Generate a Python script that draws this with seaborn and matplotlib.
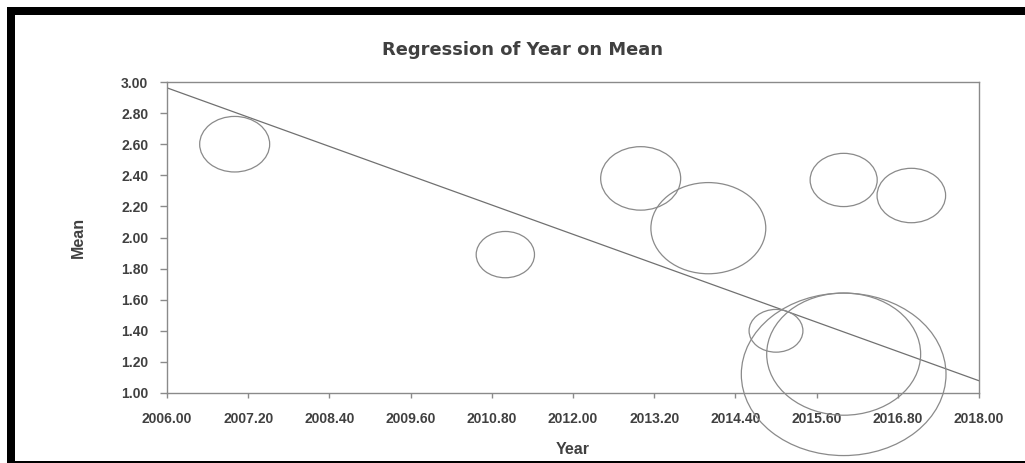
import numpy as np
import pandas as pd
import matplotlib
matplotlib.use("Agg")
import matplotlib.pyplot as plt
from matplotlib.path import Path
from matplotlib.patches import Rectangle
import seaborn as sns

# Study-level data: publication year, reported mean, and sample size (bubble weight)
years = [2007, 2011, 2013, 2014, 2016, 2017, 2015, 2016, 2016]
means = [2.60, 1.89, 2.38, 2.06, 2.37, 2.27, 1.40, 1.25, 1.12]
n_obs = [49, 34, 64, 132, 45, 47, 29, 237, 419]

x_ticks = [2006.0, 2007.2, 2008.4, 2009.6, 2010.8, 2012.0, 2013.2, 2014.4, 2015.6, 2016.8, 2018.0]
y_ticks = [1.0, 1.2, 1.4, 1.6, 1.8, 2.0, 2.2, 2.4, 2.6, 2.8, 3.0]

df = pd.DataFrame({"Year": years, "Mean": means, "n": n_obs})

sns.set_theme(style="white")
plt.rcParams["font.family"] = ["Liberation Sans", "DejaVu Sans"]

TEXT = "#404040"
EDGE = "#8a8a8a"

fig = plt.figure(figsize=(10.25, 4.63), dpi=100)
ax = fig.add_axes([167 / 1025, 1 - 393 / 463, (979 - 167) / 1025, (393 - 82) / 463])

# Bubbles are slightly wider than tall
circle = Path.unit_circle()
ellipse = Path(circle.vertices * np.array([1.26, 1.0]), circle.codes)

k = 7.2 ** 2  # points^2 per unit of n
sns.scatterplot(
    data=df, x="Year", y="Mean", size="n",
    sizes=(k * min(n_obs), k * max(n_obs)),
    marker=ellipse, facecolor="none", edgecolor=EDGE, linewidth=0.9,
    legend=False, ax=ax, clip_on=False, zorder=3,
)
for coll in ax.collections:
    coll.set_facecolor("none")
    coll.set_edgecolor(EDGE)
    coll.set_clip_on(False)

# Weighted least-squares trend of Mean on Year
slope, intercept = np.polyfit(df["Year"], df["Mean"], 1, w=np.sqrt(df["n"]))
xs = np.array([x_ticks[0], x_ticks[-1]])
sns.lineplot(x=xs, y=intercept + slope * xs, color="#707070", linewidth=0.9, ax=ax, zorder=2)

ax.set_xlim(x_ticks[0], x_ticks[-1])
ax.set_ylim(y_ticks[0], y_ticks[-1])
ax.set_xticks(x_ticks)
ax.set_yticks(y_ticks)
ax.set_xticklabels([f"{v:.2f}" for v in x_ticks])
ax.set_yticklabels([f"{v:.2f}" for v in y_ticks])

for side in ["left", "right", "top", "bottom"]:
    ax.spines[side].set_visible(True)
    ax.spines[side].set_color(EDGE)
    ax.spines[side].set_linewidth(1.0)

ax.tick_params(axis="y", which="major", left=True, length=5, width=1, color=EDGE,
               pad=8.5, labelsize=10, labelcolor=TEXT)
ax.tick_params(axis="x", which="major", bottom=True, length=3.5, width=1, color=EDGE,
               pad=10.5, labelsize=10, labelcolor=TEXT)
for lab in ax.get_xticklabels() + ax.get_yticklabels():
    lab.set_fontweight("bold")

ax.set_xlabel("Year", fontsize=11.5, fontweight="bold", color=TEXT, va="center")
ax.set_ylabel("Mean", fontsize=11.5, fontweight="bold", color=TEXT, va="center")
ax.xaxis.set_label_coords(0.5, (393 - 449) / 311)
ax.yaxis.set_label_coords((78 - 167) / 812, 0.5)

fig.text(523 / 1025, 1 - 50 / 463, "Regression of Year on Mean", ha="center", va="center",
         fontsize=12.9, fontweight="bold", color=TEXT, family=["DejaVu Sans"])

# Chart-area frame
W, H = 1025, 463
for (x0, y0, w, h) in [(7, 7, W - 7, 8), (7, 7, 8, H - 7), (7, 461, W - 7, 2)]:
    fig.patches.append(Rectangle((x0 / W, 1 - (y0 + h) / H), w / W, h / H,
                                 transform=fig.transFigure, facecolor="black",
                                 edgecolor="none", zorder=10))

fig.savefig("out.png", dpi=100)
